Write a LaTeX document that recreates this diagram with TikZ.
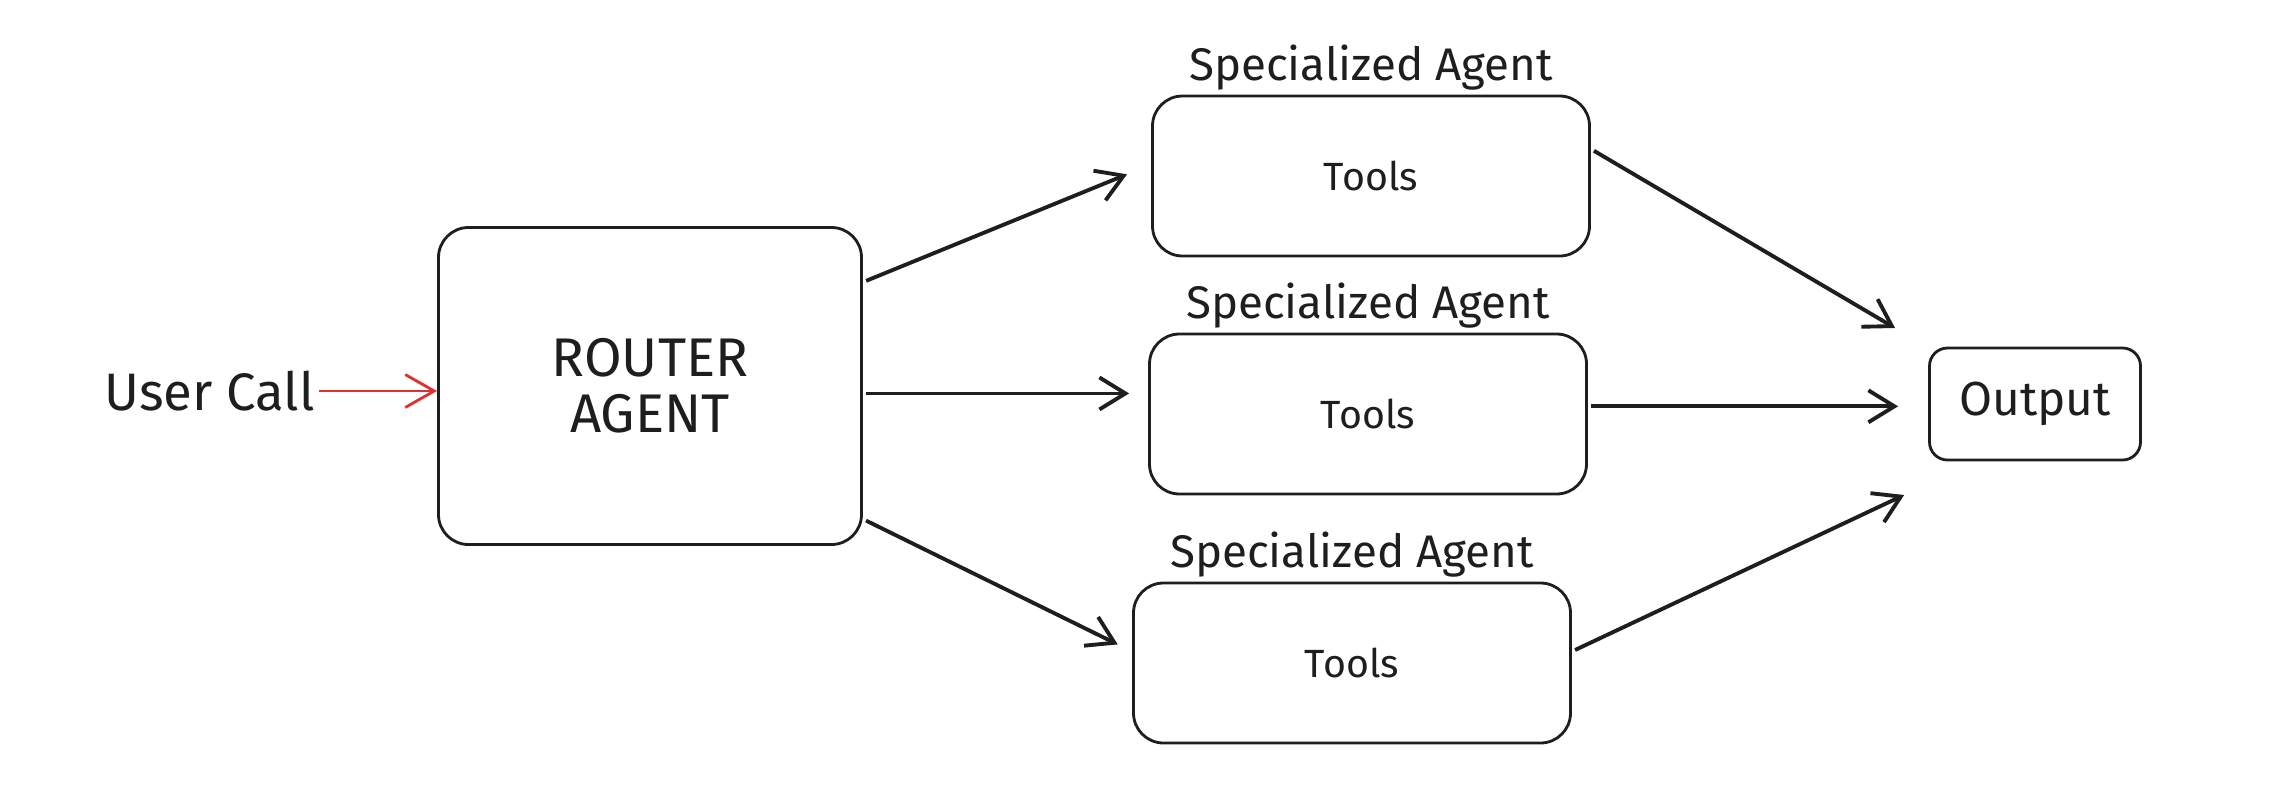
\documentclass[tikz,border=0pt]{standalone}
\usepackage{fontspec}
\setmainfont{Fira Sans}
\usetikzlibrary{arrows.meta,positioning,calc}
\definecolor{penred}{HTML}{E03131}
\definecolor{pen}{HTML}{1E1E1E}
\begin{document}
\begin{tikzpicture}[
    box/.style={draw=pen, line width=0.8pt, rounded corners=3mm, align=center, text=pen},
    agentbox/.style={box, minimum width=4.37cm, minimum height=1.6cm, font=\fontsize{11.2}{13}\selectfont},
    tag/.style={inner sep=0pt, text=pen, font=\fontsize{13}{15}\selectfont},
    arr/.style={draw=pen, line width=1.1pt, -{Straight Barb[length=2.6mm, width=3.2mm]}},
  ]
    \useasboundingbox (0,0) rectangle (22.74,8.04);

    \node[box, minimum width=4.23cm, minimum height=3.17cm, font=\fontsize{15.5}{16}\selectfont] (router) at (6.50,4.18) {ROUTER\\AGENT};
    \node[text=pen, inner sep=1pt, font=\fontsize{15}{18}\selectfont, anchor=east] (user) at (3.19,4.13) {User Call};

    \node[agentbox] (a1) at (13.71,6.28) {Tools};
    \node[agentbox] (a2) at (13.68,3.90) {Tools};
    \node[agentbox] (a3) at (13.52,1.41) {Tools};
    \node[tag, above=1pt of a1] (l1) {Specialized Agent};
    \node[tag, above=1pt of a2] (l2) {Specialized Agent};
    \node[tag, above=1pt of a3] (l3) {Specialized Agent};

    \node[box, rounded corners=1.8mm, minimum width=2.11cm, minimum height=1.12cm, font=\fontsize{13.6}{16}\selectfont] (out) at (20.35,4.00) {Output};

    % free ends in front of the output box
    \coordinate (in1) at ($(out.west)+(-0.33,0.76)$);
    \coordinate (in3) at ($(out.west)+(-0.24,-0.91)$);

    \draw[arr, draw=penred, line width=0.8pt, -{Straight Barb[length=2.9mm, width=3.3mm]}] (user.east) -- (user.east -| router.west);

    \draw[arr, shorten <=1pt, shorten >=2.6mm] (router.26) -- (a1.177);
    \draw[arr, shorten <=1pt, shorten >=1.9mm] (router.-2) -- (router.-2 -| a2.west);
    \draw[arr, shorten <=1pt, shorten >=1.6mm] (router.-32) -- (a3.177);

    \draw[arr, shorten <=1pt] (a1.7) -- (in1);
    \draw[arr, shorten <=1pt, shorten >=3mm] (a2.2) -- (a2.2 -| out.west);
    \draw[arr, shorten <=1pt] (a3.3) -- (in3);
\end{tikzpicture}
\end{document}
